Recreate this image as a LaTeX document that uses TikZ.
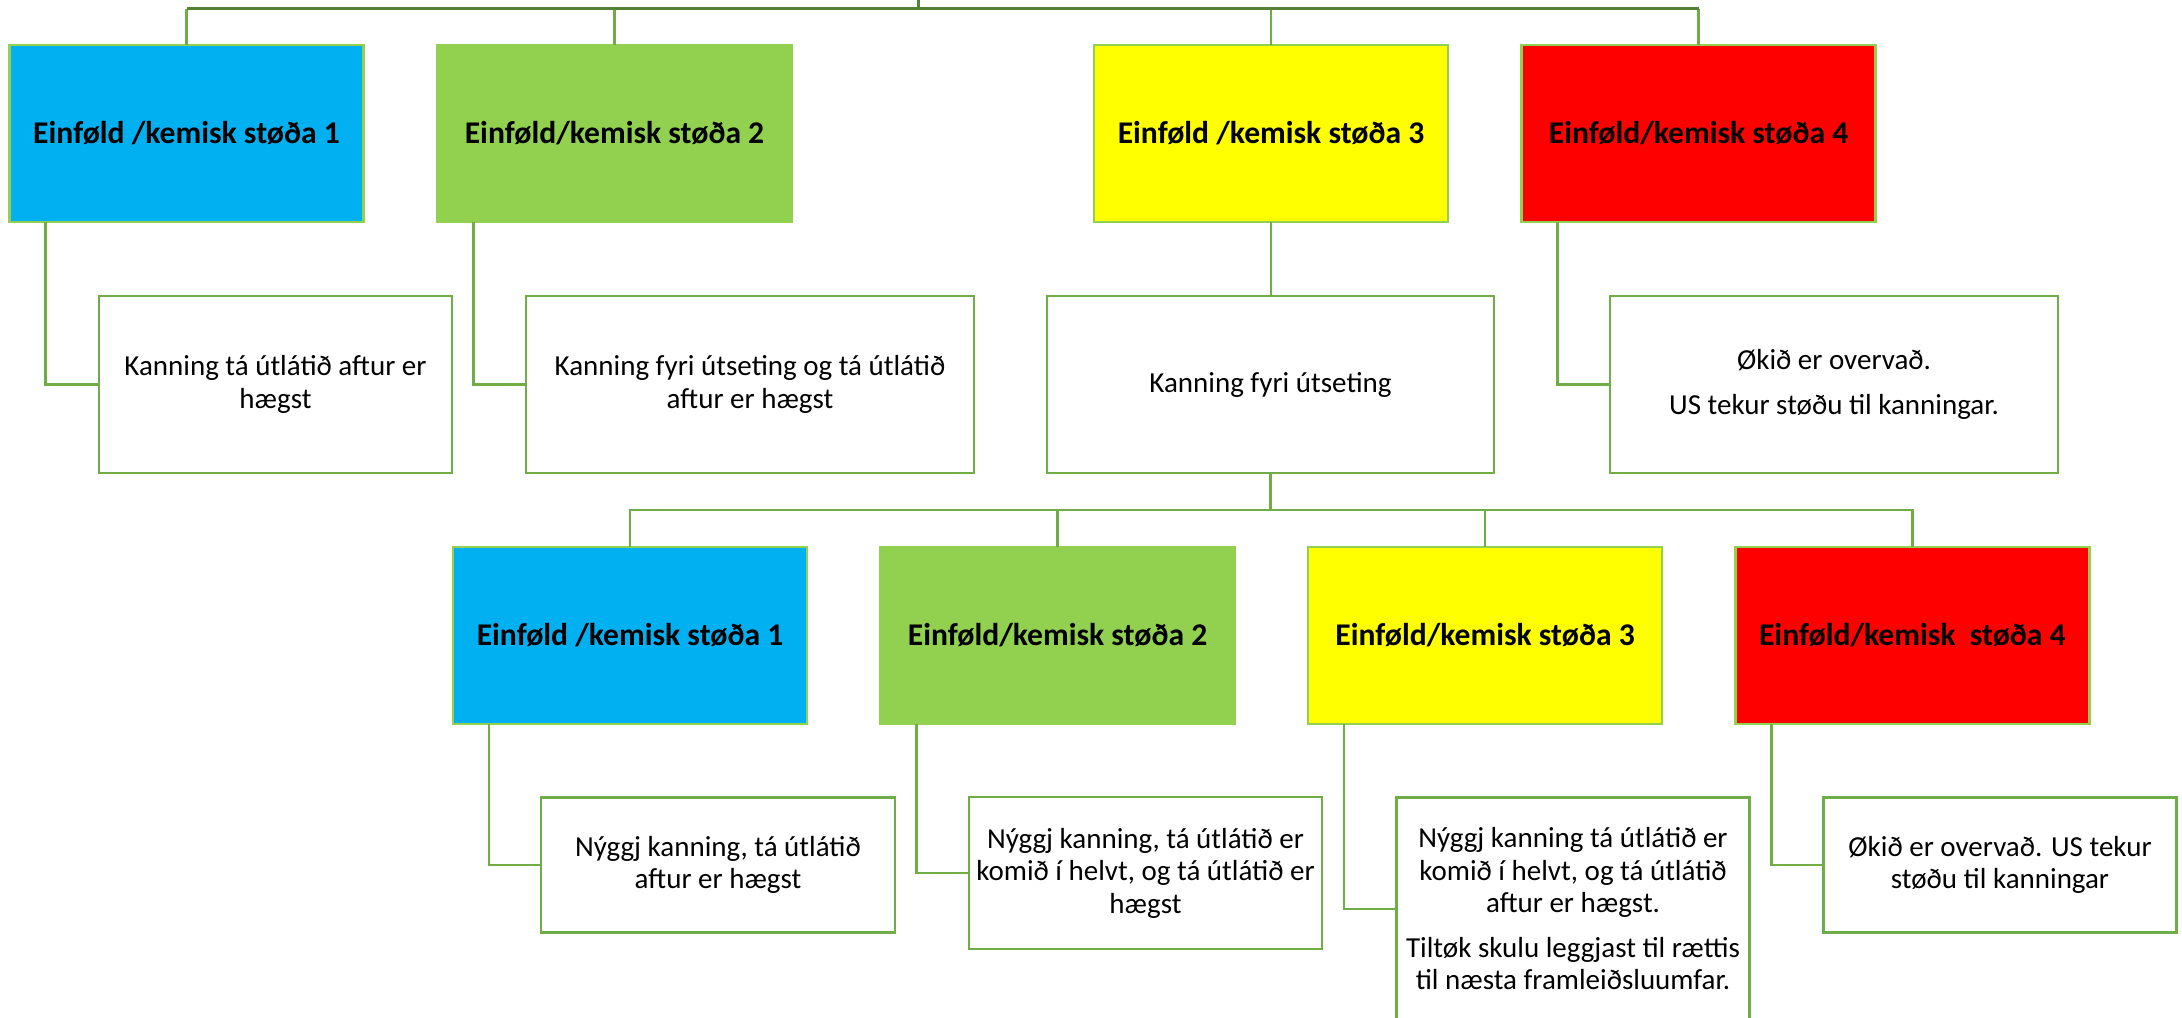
\documentclass[tikz,border=0pt]{standalone}
\usepackage{fontspec}
\setmainfont{Carlito}
\definecolor{cblue}{HTML}{00B0F0}
\definecolor{cgreen}{HTML}{92D050}
\definecolor{cyellow}{HTML}{FFFF00}
\definecolor{cred}{HTML}{FF0000}
\definecolor{lgreen}{HTML}{92D050}
\definecolor{mgreen}{HTML}{70AD47}
\definecolor{dgreen}{HTML}{548235}
\begin{document}
\begin{tikzpicture}[x=0.5pt,y=-0.5pt,
  lvl/.style={draw=lgreen, line width=1.25pt, minimum width=177pt, minimum height=88.5pt,
    inner sep=0pt, outer sep=0pt, align=center, font=\fontsize{15.8}{16.25}\selectfont\bfseries},
  kid/.style={draw=mgreen, line width=1.25pt, fill=white, inner sep=0pt, outer sep=0pt,
    align=center, font=\fontsize{14.5}{16.25}\selectfont},
  conn/.style={draw=mgreen, line width=1.25pt},
  topbar/.style={draw=dgreen, line width=1.5pt}]
\clip (0,0) rectangle (2182,1017);
\fill[white] (0,0) rectangle (2182,1017);

% level 1
\node[lvl, fill=cblue]   (A1) at (186.5,133.5) {Einføld /kemisk støða 1};
\node[lvl, fill=cgreen]  (A2) at (614.5,133.5) {Einføld/kemisk støða 2};
\node[lvl, fill=cyellow] (A3) at (1271,133.5)  {Einføld /kemisk støða 3};
\node[lvl, fill=cred]    (A4) at (1698.5,133.5) {Einføld/kemisk støða 4};

% children of level 1
\node[kid, minimum width=176.5pt, minimum height=88.5pt] (B1) at (275.5,384.5)
  {Kanning tá útlátið aftur er\\hægst};
\node[kid, minimum width=224pt, minimum height=88.5pt] (B2) at (750,384.5)
  {Kanning fyri útseting og tá útlátið\\aftur er hægst};
\node[kid, minimum width=223.5pt, minimum height=88.5pt] (B3) at (1270.5,384.5)
  {Kanning fyri útseting};
\node[kid, minimum width=224pt, minimum height=88.5pt] (B4) at (1834,384.5)
  {Økið er overvað.\\[6pt]US tekur støðu til kanningar.};

% level 2
\node[lvl, fill=cblue]   (C1) at (630,635.5)    {Einføld /kemisk støða 1};
\node[lvl, fill=cgreen]  (C2) at (1057.5,635.5) {Einføld/kemisk støða 2};
\node[lvl, fill=cyellow] (C3) at (1485,635.5)   {Einføld/kemisk støða 3};
\node[lvl, fill=cred]    (C4) at (1912.3,635.5) {Einføld/kemisk\ \ støða 4};

% children of level 2
\node[kid, minimum width=177pt, minimum height=67.5pt] (D1) at (718,865)
  {Nýggj kanning, tá útlátið\\aftur er hægst};
\node[kid, minimum width=176.5pt, minimum height=76pt] (D2) at (1145.5,873)
  {Nýggj kanning, tá útlátið er\\komið í helvt, og tá útlátið er\\hægst};
\node[kid, minimum width=176.5pt, minimum height=111.5pt] (D3) at (1573,909)
  {Nýggj kanning tá útlátið er\\komið í helvt, og tá útlátið\\aftur er hægst.\\[6pt]Tiltøk skulu leggjast til rættis\\til næsta framleiðsluumfar.};
\node[kid, minimum width=176.5pt, minimum height=67.5pt] (D4) at (2000,865)
  {Økið er overvað. US tekur\\støðu til kanningar};

% top connectors
\coordinate (top) at (918,0);
\coordinate (bar1) at (918,8.5);
\draw[conn] (A1.north) -- (A1.north |- bar1);
\draw[conn] (A2.north) -- (A2.north |- bar1);
\draw[conn] (A3.north) -- (A3.north |- bar1);
\draw[conn] (A4.north) -- (A4.north |- bar1);
\draw[topbar] (top) -- (bar1);
\draw[topbar] (A1.north |- bar1) -- (A4.north |- bar1);

% level 1 to children
\draw[conn] ([xshift=18pt]A1.south west) |- (B1.west);
\draw[conn] ([xshift=18pt]A2.south west) |- (B2.west);
\draw[conn] (A3.south) -- (A3.south |- B3.north);
\draw[conn] ([xshift=18pt]A4.south west) |- (B4.west);

% second bar
\coordinate (bar2) at (1270.5,509.8);
\draw[conn] (B3.south) -- (bar2);
\draw[conn] (C1.north) |- (bar2) -| (C4.north);
\draw[conn] (C2.north) -- (C2.north |- bar2);
\draw[conn] (C3.north) -- (C3.north |- bar2);

% level 2 to children
\draw[conn] ([xshift=18pt]C1.south west) |- (D1.west);
\draw[conn] ([xshift=18pt]C2.south west) |- (D2.west);
\draw[conn] ([xshift=18pt]C3.south west) |- (D3.west);
\draw[conn] ([xshift=18pt]C4.south west) |- (D4.west);
\end{tikzpicture}
\end{document}
